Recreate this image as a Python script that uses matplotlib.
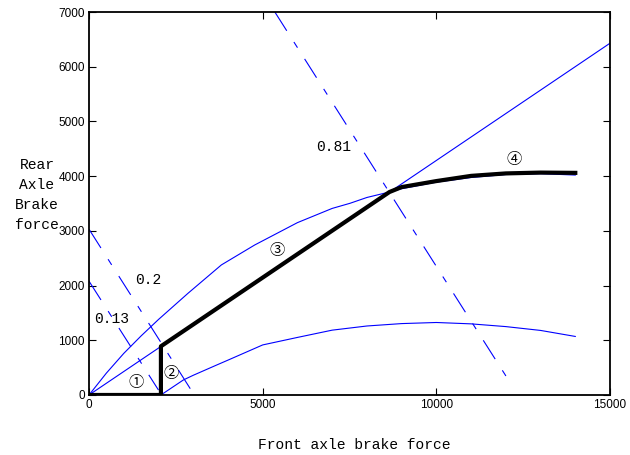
import matplotlib
matplotlib.use("Agg")
import matplotlib.pyplot as plt

# === Data ===
# ideal distribution curve (I curve)
i_x = [0, 500, 1000, 1500, 2000, 2850, 3810, 4771, 6000, 7000, 7515, 8000, 8570, 9000, 10000, 11000, 12000, 13000, 14000]
i_y = [0, 400, 760, 1080, 1380, 1859, 2377, 2742, 3150, 3410, 3504, 3610, 3698, 3770, 3890, 3975, 4030, 4045, 4020]

# fixed-ratio line (beta line)
beta_x = [0, 15000]
beta_y = [0, 6430]

# lower curve
low_x = [2070, 2715, 3000, 3676, 4000, 5000, 6000, 7000, 8000, 9000, 10000, 11000, 12000, 13000, 14000]
low_y = [0, 274, 360, 548, 637, 915, 1052, 1185, 1261, 1305, 1325, 1300, 1250, 1180, 1070]

# adhesion lines for each road coefficient
phi_labels = ["0.13", "0.2", "0.81"]
phi_x = [[0, 2000], [0, 3000], [5350, 12170]]
phi_y = [[2080, 90], [3030, 30], [7000, 180]]
phi_text_pos = [(642, 1384), (1700, 2100), (7035, 4540)]

# actual brake force distribution (thick black)
act_x = [0, 2070, 2070, 8650, 9000, 10000, 11000, 12000, 13000, 14000]
act_y = [0, 0, 890, 3710, 3800, 3910, 4005, 4050, 4065, 4060]

stage_labels = ["①", "②", "③", "④"]
stage_pos = [(1363, 232), (2350, 384), (5420, 2650), (12236, 4309)]

# === Plot ===
mono = ["Liberation Mono", "DejaVu Sans"]
fig = plt.figure(figsize=(6.3, 4.55), dpi=100)
ax = fig.add_axes([0.1413, 0.1319, 0.827, 0.8417])

ax.plot(i_x, i_y, color="blue", linewidth=0.8)
ax.plot(beta_x, beta_y, color="blue", linewidth=0.8)
ax.plot(low_x, low_y, color="blue", linewidth=0.8)
for xs, ys in zip(phi_x, phi_y):
    ax.plot(xs, ys, color="blue", linewidth=0.8, linestyle=(0, (20, 12, 6, 12)))

ax.plot(act_x, act_y, color="black", linewidth=3)

for lab, (tx, ty) in zip(phi_labels, phi_text_pos):
    ax.text(tx, ty, lab, family=mono, fontsize=10.5, ha="center", va="center")
for lab, (tx, ty) in zip(stage_labels, stage_pos):
    ax.text(tx, ty, lab, family=["Noto Sans CJK SC", "DejaVu Sans"], fontsize=11,
            ha="center", va="center")

ax.set_xlim(0, 15000)
ax.set_ylim(0, 7000)
ax.set_xticks([0, 5000, 10000, 15000])
ax.set_yticks(range(0, 7001, 1000))
ax.tick_params(direction="in", top=True, right=True, length=5, width=0.8, pad=3)
for lbl in ax.get_xticklabels() + ax.get_yticklabels():
    lbl.set_family(["Liberation Sans", "DejaVu Sans"])
    lbl.set_fontsize(8.5)
for sp in ax.spines.values():
    sp.set_linewidth(1.3)

ax.set_xlabel("Front axle brake force", family=mono, fontsize=10.5, va="center")
ax.xaxis.set_label_coords(0.51, -0.13)
ax.set_ylabel("Rear\nAxle\nBrake\nforce", family=mono, fontsize=10.5, rotation=0,
              ha="center", va="center", multialignment="center", linespacing=1.55)
ax.yaxis.set_label_coords(-0.1, 0.522)

fig.savefig("out.png", dpi=100)
